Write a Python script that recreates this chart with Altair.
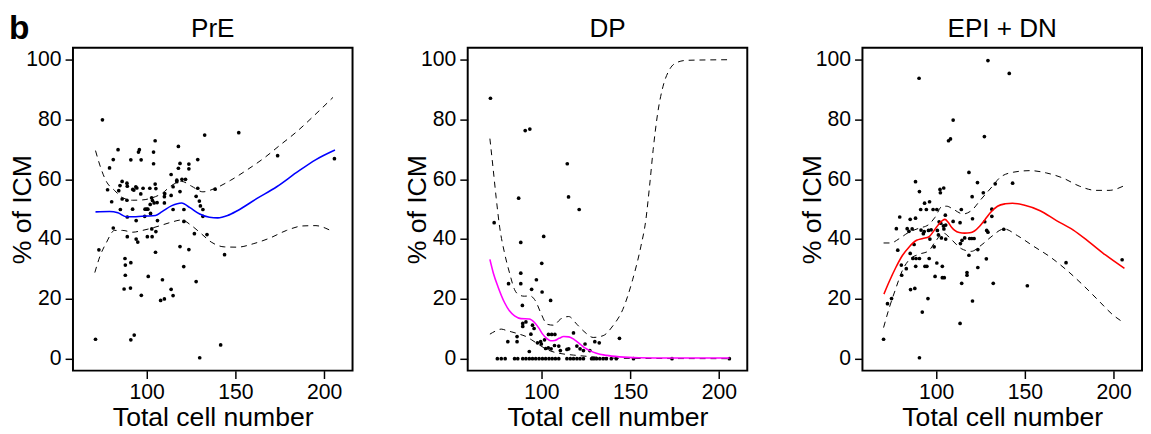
import altair as alt
import pandas as pd

FONT = "Liberation Sans"

# ---------------- PrE ----------------
PRE_X = [71.2, 73.1, 75.1, 78.0, 79.1, 80.3, 81.2, 81.2, 83.9, 84.3, 85.0, 85.2, 86.2, 86.2, 87.3, 87.8,
         88.0, 88.0, 88.9, 89.1, 88.9, 89.1, 89.1, 91.1, 91.1, 90.9, 91.1, 92.1, 92.2, 92.8, 93.0, 93.9,
         94.1, 94.1, 94.5, 95.0, 95.4, 95.9, 96.7, 96.9, 97.0, 98.0, 98.9, 99.1, 100.0, 100.4, 100.7, 100.9,
         101.8, 102.0, 102.2, 102.8, 102.9, 103.1, 103.3, 103.9, 103.9, 104.2, 104.8, 104.8, 105.0, 105.2,
         105.2, 105.9, 106.1, 108.9, 107.9, 110.0, 110.0, 110.0, 110.2, 113.8, 113.8, 113.8, 114.9, 114.9,
         114.9, 117.0, 117.0, 117.9, 117.9, 118.8, 118.8, 118.8, 119.9, 120.9, 121.0, 121.0, 121.9, 123.8,
         123.8, 123.8, 126.9, 127.9, 127.9, 128.8, 128.8, 129.7, 129.9, 130.3, 131.7, 131.7, 132.7, 134.0,
         138.6, 141.7, 143.9, 151.9, 173.8, 205.8]
PRE_Y = [6.5, 36.4, 79.9, 56.5, 63.8, 52.5, 66.6, 43.7, 69.9, 56.2, 57.9, 49.9, 59.3, 53.4, 23.3, 33.5,
         31.3, 27.9, 58.7, 57.7, 53.0, 47.4, 40.8, 66.5, 32.1, 23.6, 6.3, 50.0, 56.6, 56.4, 7.9, 57.5,
         46.2, 40.0, 57.1, 39.0, 69.1, 69.9, 55.1, 66.5, 21.2, 57.0, 47.6, 50.0, 50.0, 40.8, 50.0, 27.5,
         57.0, 51.6, 48.6, 53.8, 43.4, 40.8, 52.9, 69.1, 65.2, 52.1, 72.9, 58.4, 35.6, 56.9,
         42.5, 52.2, 46.2, 26.4, 19.5, 20.0, 54.2, 52.1, 55.2, 61.6, 54.6, 23.2, 57.5, 49.9,
         21.1, 59.7, 59.2, 71.0, 63.7, 65.3, 55.9, 37.5, 60.0, 30.8, 49.9, 45.9, 60.0, 65.1,
         63.5, 36.5, 41.8, 54.3, 25.8, 66.6, 57.0, 52.7, 0.3, 51.1, 49.9, 47.6, 74.8, 41.5,
         56.7, 4.6, 34.8, 75.6, 67.9, 66.9]
PRE_FIT_X = [71.2, 79.1, 83.8, 88.4, 93.9, 99.4, 105.0, 108.7, 114.2, 119.7, 124.4, 129.9, 135.4, 140.1,
             145.6, 151.1, 162.2, 173.3, 184.3, 195.4, 206.1]
PRE_FIT_Y = [49.1, 49.2, 48.8, 47.5, 47.5, 47.7, 47.9, 49.2, 51.2, 52.1, 50.5, 48.4, 47.3, 47.1,
             47.9, 49.5, 53.6, 57.5, 62.2, 66.6, 69.8]
PRE_UP_X = [71.2, 73.6, 77.3, 81.9, 86.5, 92.1, 97.6, 103.1, 108.7, 114.2, 119.7, 125.3, 131.7, 138.2,
            147.4, 156.7, 165.9, 175.1, 184.3, 195.4, 205.0]
PRE_UP_Y = [69.6, 64.8, 59.3, 56.3, 53.8, 53.0, 53.1, 53.8, 55.3, 58.0, 59.3, 57.7, 55.8, 56.9,
            59.7, 63.2, 67.0, 71.4, 75.8, 81.9, 87.4]
PRE_LO_X = [70.8, 73.6, 77.3, 81.9, 86.5, 92.1, 97.6, 103.1, 108.7, 114.2, 119.7, 125.3, 130.8, 136.4,
            143.7, 151.1, 160.4, 169.6, 178.8, 188.0, 195.4, 201.0, 205.0]
PRE_LO_Y = [28.8, 34.1, 38.8, 42.9, 42.9, 42.3, 42.9, 43.7, 44.7, 45.7, 46.4, 44.5, 41.8, 39.0,
            37.4, 37.3, 38.5, 40.4, 42.9, 44.4, 44.5, 43.6, 42.4]

# ---------------- DP ----------------
DP_X = [71.3, 73.4, 90.9, 93.5, 87.2, 88.4, 114.6, 115.3, 121.3, 101.3, 100.2, 88.4, 81.5, 88.4, 97.2,
        94.5, 100.4, 89.3, 105.2, 89.5, 89.5, 91.3, 95.0, 95.9, 94.1, 81.1, 86.3, 86.3, 93.2, 97.8, 99.6,
        100.0, 101.8, 102.4, 103.9, 105.5, 104.0, 105.8, 107.6, 107.4, 109.8, 110.7, 114.4, 115.4, 118.1,
        120.0, 121.8, 123.7, 124.6, 127.3, 130.1, 132.6, 144.0,
        75.2, 77.4, 79.6, 84.9, 86.7, 89.5, 91.3, 93.2, 95.0, 96.8, 98.7, 100.6, 102.4, 104.3, 106.1,
        107.9, 109.8, 114.4, 116.3, 118.1, 120.0, 121.8, 123.7, 128.3, 129.6, 131.1, 132.9, 134.8, 136.6,
        139.4, 142.2, 151.9, 173.6, 205.9]
DP_Y = [87.1, 45.5, 76.3, 76.8, 53.7, 38.9, 65.2, 54.1, 49.9, 40.9, 31.9, 28.6, 25.1, 25.1, 26.4,
        23.2, 22.3, 17.8, 19.5, 11.8, 10.8, 12.3, 11.2, 10.1, 8.2, 5.7, 7.4, 5.7, 2.4, 5.3, 5.7,
        4.9, 6.3, 3.4, 3.6, 3.3, 8.1, 8.1, 8.1, 4.4, 4.2, 2.7, 3.1, 3.3, 8.6,
        4.2, 3.3, 2.7, 4.9, 2.7, 5.7, 5.3, 6.8,
        0, 0, 0, 0, 0, 0, 0, 0, 0, 0, 0, 0, 0, 0, 0,
        0, 0, 0, 0, 0, 0, 0, 0, 0, 0, 0, 0, 0, 0,
        0, 0, 0, 0, 0]
DP_FIT_X = [71.0, 73.0, 75.6, 79.3, 82.0, 84.9, 88.5, 93.2, 96.0, 98.5, 100.6, 103.0, 105.2, 107.5, 110.0,
            112.6, 115.5, 118.5, 121.8, 124.5, 127.3, 131.0, 136.6, 144.0, 155.0, 172.0, 206.0]
DP_FIT_Y = [33.2, 28.5, 24.0, 18.7, 16.0, 14.3, 13.4, 13.3, 12.2, 10.3, 8.3, 6.8, 6.0, 6.1, 6.8,
            7.4, 7.3, 6.4, 4.9, 3.6, 2.7, 1.8, 1.1, 0.6, 0.3, 0.2, 0.2]
DP_UP_X = [71.0, 72.8, 74.5, 76.5, 79.3, 82.1, 84.9, 87.5, 90.4, 93.5, 96.8, 99.6, 103.3, 107.0, 110.7,
           115.4, 120.0, 124.6, 129.2, 134.8, 140.3, 145.9, 151.4, 156.0, 158.8, 161.0, 163.0, 165.5,
           168.5, 172.0, 176.0, 182.0, 206.0]
DP_UP_Y = [73.6, 63.7, 54.0, 44.0, 35.2, 28.6, 23.1, 21.3, 20.9, 21.0, 19.2, 15.4, 11.5, 11.2, 13.2,
           14.1, 11.5, 8.8, 7.1, 7.7, 11.0, 16.5, 26.4, 37.4, 46.2, 58.0, 70.0, 82.0,
           91.0, 96.5, 99.0, 99.8, 100.0]
DP_LO_X = [71.0, 74.0, 77.4, 80.0, 83.0, 87.6, 91.0, 94.5, 97.8, 101.0, 105.0, 110.0, 118.1, 127.3,
           136.0, 150.0, 206.0]
DP_LO_Y = [8.2, 9.2, 9.9, 9.5, 9.0, 8.2, 7.5, 6.3, 5.0, 3.8, 2.6, 1.8, 1.2, 0.7, 0.3, 0.1, 0.0]

# ---------------- EPI + DN ----------------
EPI_X = [70.4, 72.6, 74.9, 77.6, 78.4, 79.5, 80.4, 80.6, 83.2, 83.7, 84.7, 85.4, 85.4, 85.6, 86.5, 86.9,
         87.6, 88.0, 88.4, 88.4, 88.5, 88.7, 90.4, 90.6, 90.6, 90.6, 91.3, 91.5, 92.2, 92.8, 93.5, 93.3,
         93.7, 94.5, 94.8, 95.4, 95.7, 96.3, 96.1, 96.5, 97.2, 98.3, 98.9, 99.4, 100.4, 100.4, 100.7,
         101.3, 101.7, 102.2, 102.4, 102.6, 103.0, 103.5, 103.5, 104.3, 104.1, 104.4, 104.6, 105.2, 105.4,
         105.4, 107.0, 108.1, 109.6, 109.6, 113.5, 113.5, 113.7, 114.2, 114.4, 114.6, 116.1, 117.4, 117.4,
         118.5, 118.5, 118.9, 120.1, 120.3, 120.5, 120.5, 121.4, 123.3, 123.5, 123.5, 126.6, 127.2, 127.4,
         128.5, 128.3, 129.2, 129.2, 131.4, 131.4, 132.2, 133.3, 138.1, 141.2, 143.1, 151.4, 173.2, 204.8]
EPI_Y = [6.5, 18.4, 20.1, 43.5, 36.3, 47.4, 31.3, 27.9, 30.1, 43.5, 42.6, 46.6, 35.2, 23.1, 43.4, 33.5,
         38.2, 23.5, 59.2, 47.0, 30.9, 33.5, 93.8, 55.9, 33.5, 0.3, 49.9, 43.0, 15.6, 41.8, 52.0, 42.5,
         30.9, 49.9, 30.9, 20.1, 42.9, 52.5, 33.5, 40.0, 43.1, 49.9, 37.4, 27.5, 49.9, 32.0, 42.9,
         41.4, 45.8, 56.6, 55.5, 45.3, 40.4, 30.9, 27.1, 57.1, 44.4, 43.4, 27.1, 48.0, 44.7,
         40.0, 72.9, 73.5, 79.8, 45.9, 45.5, 11.8, 38.5, 49.9, 25.2, 39.6, 40.4, 28.8, 27.9,
         62.3, 34.6, 40.2, 40.2, 54.2, 46.8, 19.3, 40.2, 58.9, 36.5, 30.5, 55.5, 74.3, 45.8,
         42.9, 33.4, 99.7, 42.3, 50.0, 47.6, 25.2, 58.5, 43.3, 95.4, 58.7, 24.4, 32.1, 33.1]
EPI_FIT_X = [70.6, 73.6, 77.3, 81.0, 84.7, 89.0, 92.5, 96.0, 99.0, 101.5, 103.5, 105.0, 106.8, 108.7,
             110.5, 113.0, 116.1, 119.0, 121.6, 124.5, 127.5, 130.5, 134.6, 139.0, 143.0, 149.4, 158.6,
             167.8, 177.1, 186.3, 195.6, 206.1]
EPI_FIT_Y = [21.6, 25.8, 30.5, 34.5, 37.3, 39.6, 40.2, 40.8, 43.0, 45.0, 46.2, 46.6, 45.6, 44.0,
             42.9, 42.2, 42.0, 42.1, 42.7, 44.3, 46.5, 48.8, 51.0, 51.8, 52.0, 51.4, 49.5,
             46.2, 43.1, 39.0, 34.6, 30.2]
EPI_UP_X = [70.4, 74.5, 79.1, 84.7, 90.2, 95.7, 99.4, 103.5, 106.0, 109.6, 115.2, 119.8, 125.3, 130.9,
            136.4, 143.8, 153.0, 162.3, 171.5, 180.8, 190.0, 197.4, 206.1]
EPI_UP_Y = [38.7, 38.7, 40.1, 42.3, 43.6, 44.8, 47.3, 51.0, 51.0, 50.0, 48.4, 49.5, 53.3, 57.1,
            60.8, 62.4, 62.9, 62.1, 60.4, 57.7, 56.3, 56.3, 57.9]
EPI_LO_X = [70.4, 73.6, 77.3, 81.0, 84.7, 90.2, 95.7, 99.4, 104.1, 108.7, 114.2, 119.8, 125.3, 130.9,
            138.3, 145.7, 154.9, 164.1, 173.4, 182.6, 191.9, 199.3, 206.1]
EPI_LO_Y = [10.4, 17.0, 23.5, 29.5, 33.0, 34.9, 36.0, 39.0, 42.0, 39.8, 36.8, 35.9, 37.9, 40.7,
            43.4, 41.2, 37.6, 34.1, 29.7, 24.7, 19.2, 14.8, 11.9]

TITLES = ["PrE", "DP", "EPI + DN"]
COLORS = ["#0000FF", "#FF00FF", "#FF0000"]
X_TICKS = [100, 150, 200]
Y_TICKS = [0, 20, 40, 60, 80, 100]
W, H = 284, 328


def panel(title, px, py, fx, fy, ux, uy, lx, ly, color, first=False):
    pts = pd.DataFrame({"x": px, "y": py})
    fit = pd.DataFrame({"x": fx, "y": fy})
    ci = pd.DataFrame({"x": ux + lx, "y": uy + ly,
                       "band": ["upper"] * len(ux) + ["lower"] * len(lx)})
    xenc = alt.X("x:Q", scale=alt.Scale(domain=[58.5, 216], nice=False, zero=False),
                 axis=alt.Axis(values=X_TICKS, title="Total cell number"))
    yenc = alt.Y("y:Q", scale=alt.Scale(domain=[-4, 104], nice=False, zero=False),
                 axis=alt.Axis(values=Y_TICKS, title="% of ICM"))
    points = alt.Chart(pts).mark_circle(size=14, color="black", opacity=1).encode(x=xenc, y=yenc)
    ci_lines = alt.Chart(ci).mark_line(color="black", strokeWidth=1, strokeDash=[6, 5],
                                       interpolate="monotone").encode(x=xenc, y=yenc, detail="band:N")
    fit_line = alt.Chart(fit).mark_line(color=color, strokeWidth=1.6,
                                        interpolate="monotone").encode(x=xenc, y=yenc)
    ttl = alt.Chart(pd.DataFrame({"t": [title]})).mark_text(
        font=FONT, fontSize=26.5, align="center", baseline="alphabetic", color="black"
    ).encode(text="t:N", x=alt.value(W / 2), y=alt.value(-11))
    layers = [ci_lines, points, fit_line, ttl]
    if first:
        lab = alt.Chart(pd.DataFrame({"t": ["b"]})).mark_text(
            font=FONT, fontSize=34, fontWeight="bold", align="left", baseline="alphabetic",
            color="black").encode(text="t:N", x=alt.value(-65), y=alt.value(-9))
        layers.append(lab)
    return alt.layer(*layers).properties(width=W, height=H)


p1 = panel(TITLES[0], PRE_X, PRE_Y, PRE_FIT_X, PRE_FIT_Y, PRE_UP_X, PRE_UP_Y, PRE_LO_X, PRE_LO_Y,
           COLORS[0], first=True)
p2 = panel(TITLES[1], DP_X, DP_Y, DP_FIT_X, DP_FIT_Y, DP_UP_X, DP_UP_Y, DP_LO_X, DP_LO_Y, COLORS[1])
p3 = panel(TITLES[2], EPI_X, EPI_Y, EPI_FIT_X, EPI_FIT_Y, EPI_UP_X, EPI_UP_Y, EPI_LO_X, EPI_LO_Y,
           COLORS[2])

chart = alt.hconcat(p1, p2, p3, spacing=50).properties(
    padding={"left": 0, "top": 0, "right": 0, "bottom": 0}
).configure_view(
    stroke="black", strokeWidth=2
).configure_axis(
    domain=False, grid=False, ticks=True, tickColor="black", tickWidth=1.5, tickSize=8,
    labelFont=FONT, labelFontSize=21.5, labelColor="black",
    titleFont=FONT, titleFontSize=27, titleFontWeight="normal", titleColor="black"
).configure_axisX(
    labelPadding=3, titleBaseline="alphabetic", titleY=56
).configure_axisY(
    labelPadding=4, titleBaseline="alphabetic", titleX=-43, titleY=164, titleAngle=270
)

chart.save("out.html", embed_options={"renderer": "svg", "actions": False})
